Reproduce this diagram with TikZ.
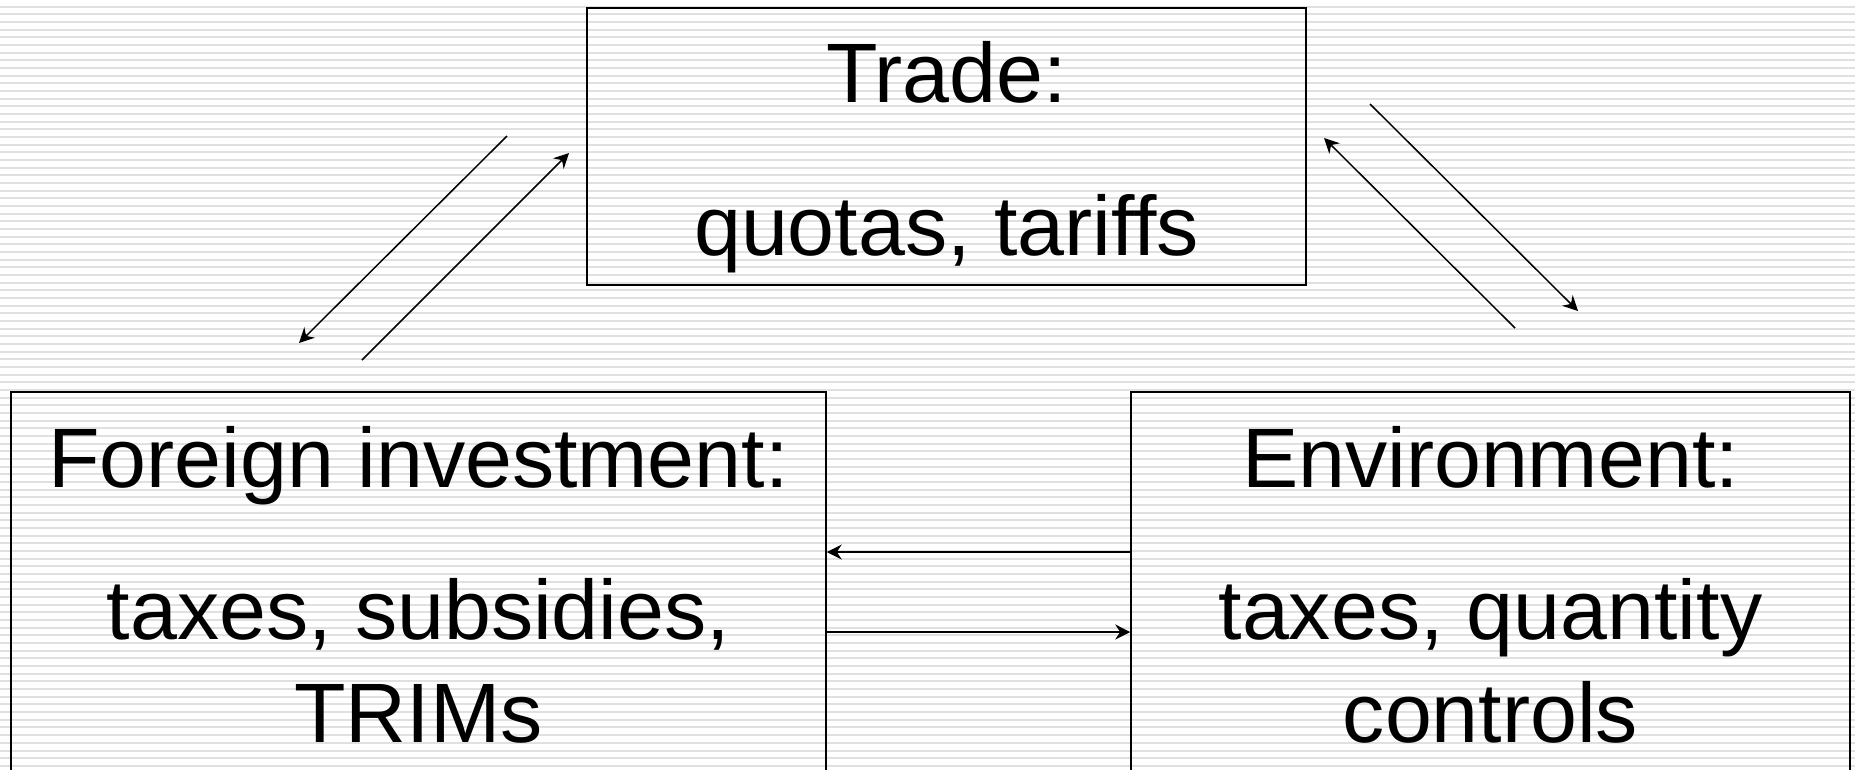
\documentclass[tikz,border=0pt]{standalone}
\usepackage{fontspec}
\setmainfont{Liberation Sans}
\usetikzlibrary{arrows.meta, positioning}

\tikzset{
  areabox/.style={draw, line width=0.034cm, minimum width=#1},
  boxtext/.style={anchor=base, inner sep=0pt, font=\fontsize{48}{58}\selectfont},
  link/.style={->, line width=0.03cm},
  stripe/.style={line width=0.04cm, black!12}
}

\begin{document}
\begin{tikzpicture}[x=0.02cm, y=-0.02cm, >={Stealth[length=0.3cm, width=0.3cm, inset=0.1cm]}]
  \useasboundingbox (0,0) rectangle (1855,769);

  % lined background
  \foreach \k [evaluate=\k as \yy using 6.5+7.67*\k] in {0,...,99}
    \draw[stripe] (0,\yy) -- (1855,\yy);

  %%%%%%%%%%%%%%%%%%
  \node (trade) [areabox=14.38cm, minimum height=5.54cm] at (946.5,146.5) {};
  \node (tradeA) [boxtext] at (946.5,102) {Trade:};
  \node (tradeB) [boxtext] at (946.5,255) {quotas, tariffs};

  %%%%%%%%%%%%%%%%%%
  \node (fdi) [areabox=16.3cm, minimum height=8.76cm] at (418.5,611) {};
  \node (fdiA) [boxtext] at (418.5,487) {Foreign investment:};
  \node (fdiB) [boxtext] at (418.5,639) {taxes, subsidies,};
  \node (fdiC) [boxtext] at (418.5,742) {TRIMs};

  %%%%%%%%%%%%%%%%%%
  \node (env) [areabox=14.38cm, minimum height=8.76cm] at (1490.5,611) {};
  \node (envA) [boxtext] at (1490.5,487) {Environment:};
  \node (envB) [boxtext] at (1490.5,639) {taxes, quantity};
  \node (envC) [boxtext] at (1490.5,742) {controls};

  %%%%%%%%%%%%%%%%%%
  \coordinate (tfA) at (507,136);
  \coordinate (tfB) at (299,343);
  \coordinate (ftA) at (362,360);
  \coordinate (ftB) at (569,153);
  \coordinate (teA) at (1370,104);
  \coordinate (teB) at (1578,311);
  \coordinate (etA) at (1515,328);
  \coordinate (etB) at (1324,138);

  %%%%%%%%%%%%%%%%%%%%
  \draw [link] (tfA) -- (tfB);
  \draw [link] (ftA) -- (ftB);
  \draw [link] (teA) -- (teB);
  \draw [link] (etA) -- (etB);

  \draw [link] (env.west |- 0,552) -- (fdi.east |- 0,552);
  \draw [link] (fdi.east |- 0,632) -- (env.west |- 0,632);

\end{tikzpicture}
\end{document}
